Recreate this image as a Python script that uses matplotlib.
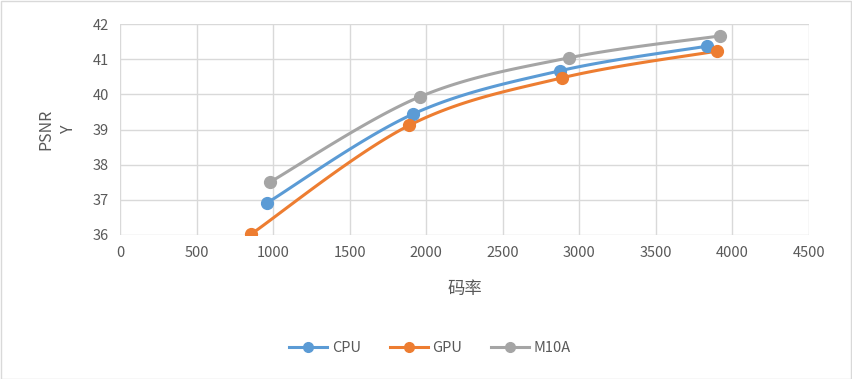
import numpy as np
import matplotlib
matplotlib.use("Agg")
import matplotlib.pyplot as plt
from matplotlib.patches import Rectangle

plt.rcParams['font.family'] = ['Noto Sans CJK SC', 'DejaVu Sans']

series_names = ["CPU", "GPU", "M10A"]
cpu_x = [963, 1914, 2874, 3834]
cpu_y = [36.92, 39.44, 40.67, 41.37]
gpu_x = [858, 1890, 2888, 3900]
gpu_y = [36.03, 39.12, 40.47, 41.23]
m10a_x = [978, 1958, 2934, 3917]
m10a_y = [37.50, 39.93, 41.04, 41.66]
colors = ["#5B9BD5", "#ED7D31", "#A5A5A5"]

x_ticks = [0, 500, 1000, 1500, 2000, 2500, 3000, 3500, 4000, 4500]
y_ticks = [36, 37, 38, 39, 40, 41, 42]


def smooth(xs, ys, n=40):
    # Catmull-Rom style Bezier smoothing (like Excel smoothed lines)
    xs = np.asarray(xs, float)
    ys = np.asarray(ys, float)
    px = np.concatenate([[xs[0]], xs, [xs[-1]]])
    py = np.concatenate([[ys[0]], ys, [ys[-1]]])
    outx, outy = [], []
    t = np.linspace(0, 1, n)
    for i in range(1, len(px) - 2):
        p0 = np.array([px[i], py[i]])
        p3 = np.array([px[i + 1], py[i + 1]])
        c1 = p0 + (np.array([px[i + 1], py[i + 1]]) - np.array([px[i - 1], py[i - 1]])) / 6
        c2 = p3 - (np.array([px[i + 2], py[i + 2]]) - np.array([px[i], py[i]])) / 6
        b = ((1 - t) ** 3)[:, None] * p0 + (3 * (1 - t) ** 2 * t)[:, None] * c1 \
            + (3 * (1 - t) * t ** 2)[:, None] * c2 + (t ** 3)[:, None] * p3
        outx.extend(b[:, 0])
        outy.extend(b[:, 1])
    return outx, outy


fig = plt.figure(figsize=(8.52, 3.79), dpi=100)
ax = fig.add_axes([120 / 852, 1 - 235 / 379, (809 - 120) / 852, (235 - 24) / 379])

data = [(cpu_x, cpu_y), (gpu_x, gpu_y), (m10a_x, m10a_y)]
for (xs, ys), name, c in zip(data, series_names, colors):
    sx, sy = smooth(xs, ys)
    ax.plot(sx, sy, color=c, lw=2.2, solid_capstyle='round', zorder=3)
    ax.plot(xs, ys, 'o', color=c, ms=8.5, zorder=4)
    ax.plot([], [], '-o', color=c, lw=2.2, ms=7, label=name)

ax.set_xlim(0, 4500)
ax.set_ylim(36, 42)
ax.set_xticks(x_ticks)
ax.set_yticks(y_ticks)
ax.grid(True, color="#D9D9D9", lw=1)
ax.set_axisbelow(True)
for s in ax.spines.values():
    s.set_visible(False)
ax.tick_params(length=0, labelsize=10.5, colors="#595959", pad=8)
for lbl in ax.get_xticklabels() + ax.get_yticklabels():
    lbl.set_color("#595959")

ax.set_xlabel("码率", fontsize=12.5, color="#595959", labelpad=14)
ylab = ax.set_ylabel("PSNR\nY", fontsize=11.5, color="#595959", labelpad=11,
                     linespacing=1.45)
ylab.set_multialignment('center')

leg = fig.legend(loc='center', bbox_to_anchor=(430 / 852, 1 - 348 / 379), ncol=3,
                 frameon=False, fontsize=10.5, handlelength=2.6, columnspacing=2.0,
                 handletextpad=0.3)
for t in leg.get_texts():
    t.set_color("#595959")

fig.patches.append(Rectangle((0.5 / 852, 0.5 / 379), 1 - 1.5 / 852, 1 - 1.5 / 379,
                             transform=fig.transFigure, fill=False,
                             edgecolor="#D9D9D9", lw=1))

fig.savefig("out.png", dpi=100, facecolor="white")
